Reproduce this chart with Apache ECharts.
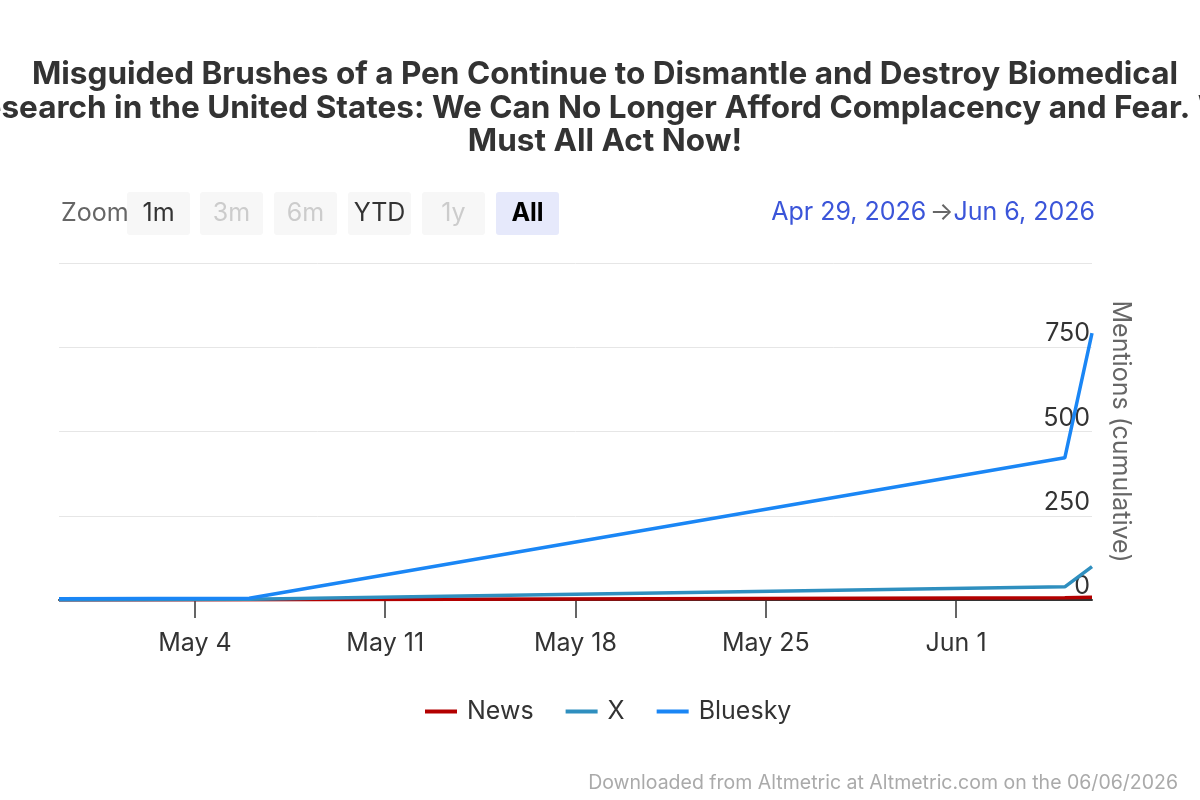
<!DOCTYPE html>
<html>
<head>
<meta charset="utf-8">
<script src="https://cdn.jsdelivr.net/npm/echarts@6/dist/echarts.min.js"></script>
<style>
html,body{margin:0;padding:0;background:#fff;}
#chart{width:1200px;height:800px;}
</style>
</head>
<body>
<div id="chart"></div>
<script>
// ---- data ----
var titleText = 'Misguided Brushes of a Pen Continue to Dismantle and Destroy Biomedical\nResearch in the United States: We Can No Longer Afford Complacency and Fear. We\nMust All Act Now!';
var dates = ['2026-04-29', '2026-05-06', '2026-06-05', '2026-06-06'];
var newsValues = [0, 1, 7, 8];
var xValues = [0, 2, 39, 99];
var blueskyValues = [4, 5, 422, 792];
var seriesNames = ['News', 'X', 'Bluesky'];
var seriesColors = ['#b30000', '#2f8fbf', '#1a86f5'];
var tickDates = ['2026-05-04', '2026-05-11', '2026-05-18', '2026-05-25', '2026-06-01'];
var tickLabels = ['May 4', 'May 11', 'May 18', 'May 25', 'Jun 1'];
var yTicks = [0, 250, 500, 750, 1000];
var rangeStart = '2026-04-29';
var rangeEnd = '2026-06-06';
var zoomButtons = ['1m', '3m', '6m', 'YTD', '1y', 'All'];
var zoomEnabled = [true, false, false, true, false, true];

function ts(s) {
  var p = s.split('-');
  return Date.UTC(+p[0], +p[1] - 1, +p[2]);
}
var tickTs = tickDates.map(ts);
function pairs(vals) { return dates.map(function (d, i) { return [ts(d), vals[i]]; }); }

var chart = echarts.init(document.getElementById('chart'));
var FONT = 'Inter, "Noto Sans", sans-serif';
var FS = 25;

var graphics = [];
graphics.push({ type: 'text', x: 61, y: 213.5, style: { text: 'Zoom', font: FS + 'px ' + FONT, fill: '#666', verticalAlign: 'middle' } });
var btnX = [127, 200, 274, 348, 422, 496];
zoomButtons.forEach(function (b, i) {
  var isAll = b === 'All';
  graphics.push({
    type: 'rect', shape: { x: btnX[i], y: 192, width: 63, height: 43, r: 3 },
    style: { fill: isAll ? '#e6e9fb' : '#f7f7f7' }
  });
  graphics.push({
    type: 'text', x: btnX[i] + 31.5, y: 213.5,
    style: {
      text: b, font: (isAll ? 'bold ' : '') + FS + 'px ' + FONT,
      fill: isAll ? '#000' : (zoomEnabled[i] ? '#333' : '#cccccc'),
      align: 'center', verticalAlign: 'middle'
    }
  });
});
function fmtDate(s) {
  var d = new Date(ts(s));
  var m = ['Jan','Feb','Mar','Apr','May','Jun','Jul','Aug','Sep','Oct','Nov','Dec'];
  return m[d.getUTCMonth()] + ' ' + d.getUTCDate() + ', ' + d.getUTCFullYear();
}
graphics.push({
  type: 'text', x: 1095, y: 212,
  style: {
    text: '{a|' + fmtDate(rangeStart) + '} {b|→}{a|' + fmtDate(rangeEnd) + '}',
    align: 'right', verticalAlign: 'middle',
    rich: {
      a: { fontFamily: FONT, fontSize: FS, fill: '#3b55d9' },
      b: { fontFamily: FONT, fontSize: FS, fill: '#666' }
    }
  }
});
graphics.push({
  type: 'text', x: 1178, y: 783,
  style: {
    text: 'Downloaded from Altmetric at Altmetric.com on the 06/06/2026',
    font: '19.5px ' + FONT, fill: '#aaaaaa', align: 'right', verticalAlign: 'middle'
  }
});

var values = [newsValues, xValues, blueskyValues];
var option = {
  animation: false,
  backgroundColor: '#fff',
  title: {
    text: titleText,
    left: 600, top: 53, textAlign: 'center',
    textStyle: { fontFamily: FONT, fontWeight: 'bold', fontSize: 31.5, color: '#333', lineHeight: 33.5 }
  },
  graphic: graphics,
  legend: {
    left: 425, top: 699, padding: 0,
    itemWidth: 32, itemHeight: 4, itemGap: 32,
    icon: 'rect',
    textStyle: { fontFamily: FONT, fontSize: FS, color: '#333', padding: [0, 0, 0, 5] },
    data: seriesNames
  },
  grid: { left: 59, right: 108, top: 263, bottom: 200 },
  xAxis: {
    type: 'value',
    min: ts(rangeStart), max: ts(rangeEnd),
    axisLine: { show: true, lineStyle: { color: '#333', width: 2 } },
    axisTick: { show: true, length: 18, lineStyle: { color: '#333', width: 1.5 }, customValues: tickTs },
    axisLabel: {
      customValues: tickTs, margin: 31,
      fontFamily: FONT, fontSize: FS, color: '#333',
      formatter: function (v) {
        var i = tickTs.indexOf(v);
        return i >= 0 ? tickLabels[i] : '';
      }
    },
    splitLine: { show: false }
  },
  yAxis: {
    type: 'value', position: 'right',
    min: yTicks[0], max: yTicks[yTicks.length - 1], interval: 250,
    name: 'Mentions (cumulative)', nameLocation: 'middle', nameRotate: -90, nameGap: 16,
    nameTextStyle: { fontFamily: FONT, fontSize: FS, color: '#666' },
    axisLine: { show: false }, axisTick: { show: false },
    axisLabel: {
      inside: true, margin: 2, showMaxLabel: false,
      verticalAlign: 'bottom', padding: [0, 0, 1, 0],
      fontFamily: FONT, fontSize: FS, color: '#333'
    },
    splitLine: { lineStyle: { color: '#e6e6e6', width: 1 } }
  },
  series: seriesNames.map(function (n, i) {
    return {
      name: n, type: 'line', data: pairs(values[i]),
      showSymbol: false, symbol: 'none',
      lineStyle: { width: 3.5, color: seriesColors[i] },
      itemStyle: { color: seriesColors[i] },
      z: 2 + i
    };
  })
};
chart.setOption(option);
</script>
</body>
</html>
